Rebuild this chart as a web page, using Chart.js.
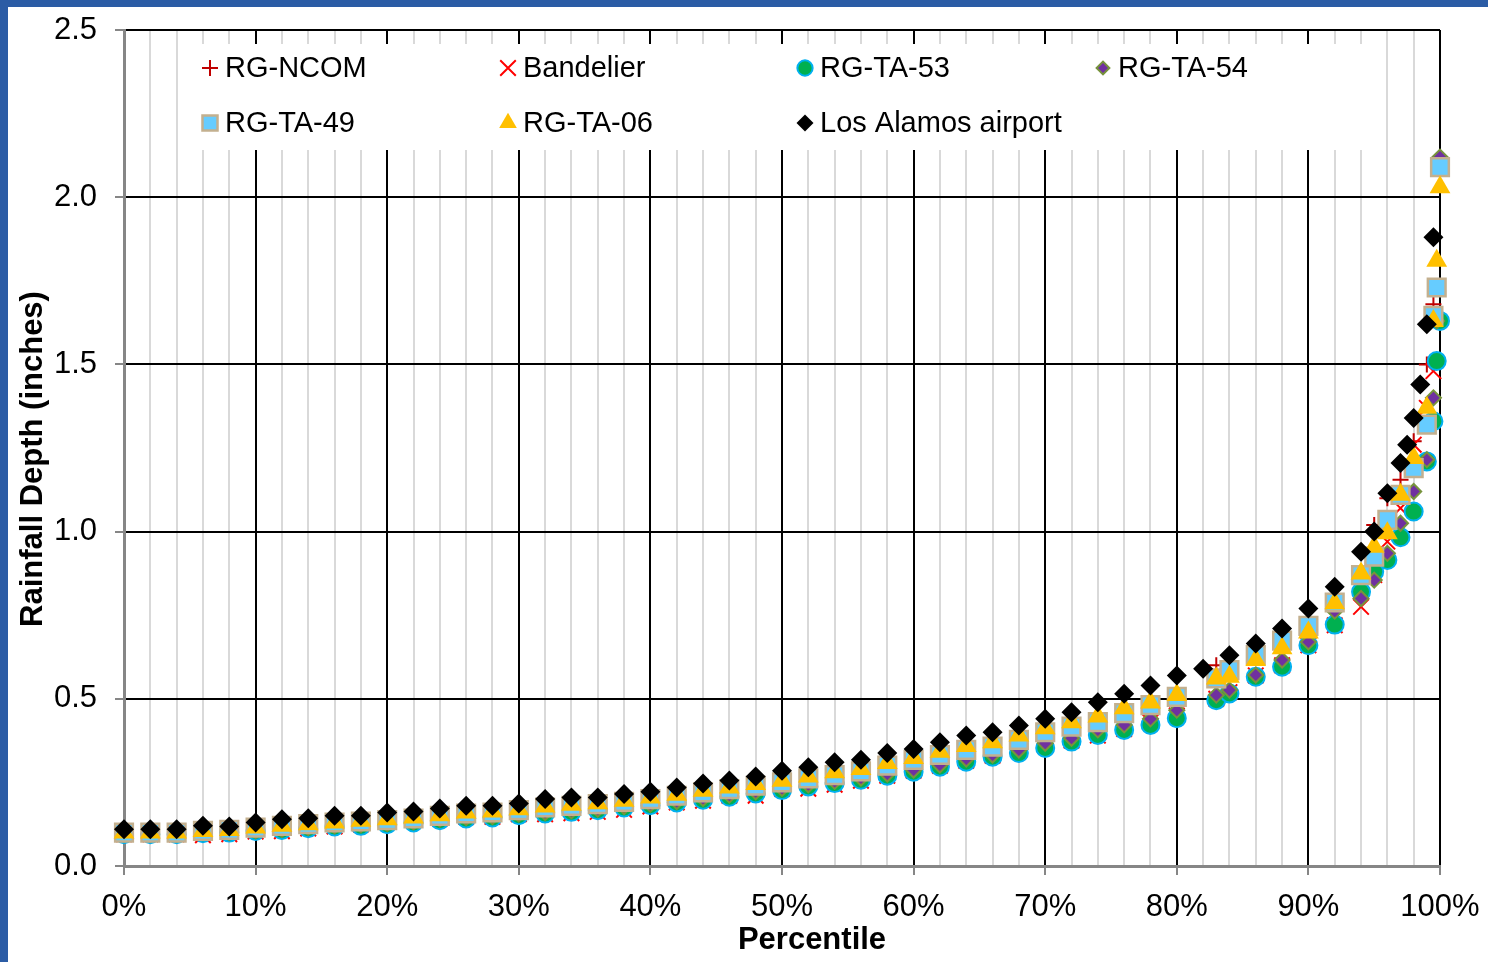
<!DOCTYPE html>
<html>
<head>
<meta charset="utf-8">
<script src="https://cdn.jsdelivr.net/npm/chart.js@4.4.0/dist/chart.umd.min.js"></script>
<style>
    html, body { margin: 0; padding: 0; background: #ffffff; }
    #grafico { display: block; }
</style>
</head>
<body>
<canvas id="grafico" width="1488" height="962"></canvas>
<script>

// percentis (eixo x) das estacoes
var percentis = [0, 2, 4, 6, 8, 10, 12, 14, 16, 18, 20, 22, 24, 26, 28, 30, 32, 34, 36, 38, 40,
    42, 44, 46, 48, 50, 52, 54, 56, 58, 60, 62, 64, 66, 68, 70, 72, 74, 76, 78, 80,
    83, 84, 86, 88, 90, 92, 94, 95, 96, 97, 98, 99, 99.5, 99.75, 100];

// o aeroporto tem outra serie de percentis
var percentisAeroporto = [0, 2, 4, 6, 8, 10, 12, 14, 16, 18, 20, 22, 24, 26, 28, 30, 32, 34, 36, 38, 40,
    42, 44, 46, 48, 50, 52, 54, 56, 58, 60, 62, 64, 66, 68, 70, 72, 74, 76, 78, 80,
    82, 84, 86, 88, 90, 92, 94, 95, 96, 97, 97.5, 98, 98.5, 99, 99.5];

var rgNcom = [0.10, 0.10, 0.10, 0.10, 0.10, 0.11, 0.11, 0.12, 0.125, 0.13, 0.135, 0.14, 0.145, 0.15, 0.155,
    0.16, 0.165, 0.17, 0.175, 0.185, 0.19, 0.20, 0.21, 0.22, 0.23, 0.24, 0.25, 0.26, 0.27, 0.285,
    0.30, 0.315, 0.33, 0.345, 0.36, 0.38, 0.40, 0.42, 0.44, 0.47, 0.50,
    0.60, 0.59, 0.63, 0.67, 0.72, 0.77, 0.86, 1.02, 1.10, 1.155, 1.27, 1.50, 1.68, null, null];

var bandelier = [0.095, 0.095, 0.095, 0.092, 0.095, 0.103, 0.104, 0.112, 0.118, 0.124, 0.134, 0.138, 0.142, 0.147, 0.147,
    0.155, 0.155, 0.158, 0.162, 0.168, 0.178, 0.19, 0.195, 0.21, 0.21, 0.231, 0.231, 0.243, 0.255, 0.27,
    0.285, 0.30, 0.315, 0.33, 0.345, 0.36, 0.375, 0.39, 0.41, 0.43, 0.45,
    0.50, 0.52, 0.57, 0.60, 0.66, 0.72, 0.775, 0.87, 0.97, 1.07, 1.26, 1.37, 1.48, null, null];

var rgTa53 = [0.095, 0.095, 0.095, 0.098, 0.100, 0.105, 0.108, 0.113, 0.118, 0.120, 0.125, 0.130, 0.137, 0.142, 0.145,
    0.152, 0.157, 0.162, 0.167, 0.175, 0.182, 0.190, 0.198, 0.207, 0.217, 0.227, 0.238, 0.248, 0.258, 0.270,
    0.282, 0.297, 0.312, 0.327, 0.338, 0.353, 0.372, 0.392, 0.407, 0.422, 0.442,
    0.496, 0.516, 0.566, 0.596, 0.660, 0.722, 0.820, 0.880, 0.915, 0.983, 1.060, 1.210, 1.330, 1.510, 1.630];

var rgTa54 = [0.095, 0.095, 0.095, 0.100, 0.100, 0.105, 0.110, 0.115, 0.120, 0.123, 0.127, 0.132, 0.140, 0.145, 0.148,
    0.155, 0.160, 0.165, 0.170, 0.178, 0.185, 0.193, 0.202, 0.212, 0.222, 0.232, 0.243, 0.253, 0.263, 0.275,
    0.287, 0.302, 0.320, 0.332, 0.347, 0.367, 0.382, 0.407, 0.422, 0.440, 0.466,
    0.511, 0.526, 0.571, 0.616, 0.670, 0.762, 0.800, 0.855, 0.935, 1.025, 1.120, 1.215, 1.400, 1.630, 2.120];

var rgTa49 = [0.100, 0.100, 0.100, 0.105, 0.108, 0.115, 0.120, 0.125, 0.130, 0.133, 0.137, 0.142, 0.150, 0.157, 0.160,
    0.167, 0.175, 0.180, 0.185, 0.192, 0.200, 0.210, 0.220, 0.230, 0.240, 0.250, 0.262, 0.272, 0.283, 0.300,
    0.317, 0.332, 0.347, 0.357, 0.377, 0.400, 0.417, 0.430, 0.457, 0.481, 0.506,
    0.561, 0.586, 0.631, 0.674, 0.718, 0.788, 0.870, 0.925, 1.035, 1.110, 1.190, 1.320, 1.645, 1.730, 2.090];

var rgTa06 = [0.100, 0.100, 0.100, 0.105, 0.108, 0.115, 0.120, 0.125, 0.130, 0.135, 0.140, 0.145, 0.152, 0.160, 0.163,
    0.170, 0.178, 0.183, 0.188, 0.195, 0.205, 0.213, 0.225, 0.235, 0.245, 0.255, 0.268, 0.280, 0.290, 0.308,
    0.323, 0.342, 0.359, 0.370, 0.390, 0.412, 0.430, 0.447, 0.472, 0.489, 0.511,
    0.561, 0.566, 0.616, 0.651, 0.698, 0.786, 0.875, 0.955, 0.995, 1.110, 1.220, 1.370, 1.630, 1.810, 2.030];

var losAlamos = [0.11, 0.11, 0.11, 0.12, 0.118, 0.13, 0.14, 0.143, 0.15, 0.15, 0.16, 0.163, 0.172, 0.18, 0.18,
    0.187, 0.20, 0.205, 0.205, 0.215, 0.222, 0.235, 0.247, 0.256, 0.268, 0.285, 0.295, 0.31, 0.318, 0.338,
    0.35, 0.37, 0.39, 0.40, 0.42, 0.44, 0.46, 0.49, 0.515, 0.54, 0.57,
    0.59, 0.63, 0.665, 0.71, 0.77, 0.835, 0.94, 1.0, 1.115, 1.205, 1.26, 1.34, 1.44, 1.62, 1.88];

var rotulosY = ["0.0", "0.5", "1.0", "1.5", "2.0", "2.5"];

var fonte = "'Liberation Sans', Arial, sans-serif";


function montarPontos(xs, ys) {
    var pontos = [];
    for (var i = 0; i < xs.length; i++) {
        if (ys[i] !== null) {
            pontos.push({ x: xs[i], y: ys[i] });
        }
    }
    return pontos;
}

var series = [
    { label: 'RG-NCOM', data: montarPontos(percentis, rgNcom), pointStyle: 'cross', pointRadius: 8,
      backgroundColor: '#C00000', borderColor: '#C00000', pointBorderWidth: 2 },
    { label: 'Bandelier', data: montarPontos(percentis, bandelier), pointStyle: 'crossRot', pointRadius: 11,
      backgroundColor: '#FF0000', borderColor: '#FF0000', pointBorderWidth: 2 },
    { label: 'RG-TA-53', data: montarPontos(percentis, rgTa53), pointStyle: 'circle', pointRadius: 9,
      backgroundColor: '#00B050', borderColor: '#00B0F0', pointBorderWidth: 2 },
    { label: 'RG-TA-54', data: montarPontos(percentis, rgTa54), pointStyle: 'rectRot', pointRadius: 7.5,
      backgroundColor: '#7030A0', borderColor: '#77933C', pointBorderWidth: 2 },
    { label: 'RG-TA-49', data: montarPontos(percentis, rgTa49), pointStyle: 'rect', pointRadius: 12.5,
      backgroundColor: '#66CCFF', borderColor: '#C3B08F', pointBorderWidth: 2.5 },
    { label: 'RG-TA-06', data: montarPontos(percentis, rgTa06), pointStyle: 'triangle', pointRadius: 12,
      backgroundColor: '#FFC000', borderColor: '#FFC000', pointBorderWidth: 0 },
    { label: 'Los Alamos airport', data: montarPontos(percentisAeroporto, losAlamos), pointStyle: 'rectRot', pointRadius: 10,
      backgroundColor: '#000000', borderColor: '#000000', pointBorderWidth: 0 }
];

// ultima serie fica por cima, como no Excel
for (var i = 0; i < series.length; i++) {
    series[i].order = series.length - i;
    series[i].clip = false;
    series[i].showLine = false;
}

// fundo branco e moldura azul
var pluginFundo = {
    id: 'fundo',
    beforeDraw: function (chart) {
        var ctx = chart.ctx;
        ctx.save();
        ctx.fillStyle = '#ffffff';
        ctx.fillRect(0, 0, chart.width, chart.height);
        ctx.fillStyle = '#2B5CA5';
        ctx.fillRect(0, 0, chart.width, 7);
        ctx.fillRect(0, 0, 8, chart.height);
        ctx.restore();
    }
};

// legenda dentro da area do grafico
var pluginLegenda = {
    id: 'legendaInterna',
    beforeDatasetsDraw: function (chart) {
        var ctx = chart.ctx;
        ctx.save();
        ctx.fillStyle = '#ffffff';
        ctx.fillRect(191, 44, 1184, 106);

        var colunas = [210, 508, 805, 1103];
        var linhas = [68, 123];
        ctx.font = "29px " + fonte;
        ctx.textBaseline = 'middle';
        ctx.textAlign = 'left';

        for (var i = 0; i < series.length; i++) {
            var s = series[i];
            var px = colunas[i % 4];
            var py = linhas[Math.floor(i / 4)];
            var fator = (s.pointStyle === 'cross' || s.pointStyle === 'crossRot') ? 1 : 0.85;
            ctx.fillStyle = s.backgroundColor;
            ctx.strokeStyle = s.borderColor;
            ctx.lineWidth = s.pointBorderWidth;
            Chart.helpers.drawPoint(ctx, {
                pointStyle: s.pointStyle,
                radius: s.pointRadius * fator,
                rotation: 0,
                borderWidth: s.pointBorderWidth
            }, px, py);
            ctx.fillStyle = '#000000';
            ctx.fillText(s.label, px + 15, py + 1);
        }
        ctx.restore();
    },
    afterDraw: function (chart) {
        // titulos dos eixos
        var ctx = chart.ctx;
        ctx.save();
        ctx.fillStyle = '#000000';
        ctx.font = "bold 31px " + fonte;
        ctx.textAlign = 'center';
        ctx.textBaseline = 'middle';
        ctx.fillText('Percentile', 812, 940);
        ctx.translate(33, 459);
        ctx.rotate(-Math.PI / 2);
        ctx.fillText('Rainfall Depth (inches)', 0, 0);
        ctx.restore();
    }
};

const config = {
    type: 'scatter',
    data: { datasets: series },
    options: {
        responsive: false,
        animation: false,
        devicePixelRatio: 1,
        events: [],
        layout: {
            padding: { left: 0, right: 48, top: 30, bottom: 0 }
        },
        plugins: {
            legend: { display: false },
            tooltip: { enabled: false }
        },
        scales: {
            x: {
                type: 'linear',
                position: 'bottom',
                min: 0,
                max: 100,
                afterFit: function (escala) {
                    escala.height = 96;
                    escala.paddingLeft = 0;
                    escala.paddingRight = 0;
                },
                ticks: {
                    stepSize: 2,
                    autoSkip: false,
                    maxRotation: 0,
                    minRotation: 0,
                    padding: 14,
                    color: '#000000',
                    font: { family: fonte, size: 31 },
                    callback: function (valor) {
                        return valor % 10 === 0 ? valor + '%' : '';
                    }
                },
                grid: {
                    lineWidth: 2,
                    tickLength: 9,
                    color: function (c) {
                        return c.tick && c.tick.value % 10 === 0 ? '#000000' : '#D9D9D9';
                    },
                    tickColor: function (c) {
                        return c.tick && c.tick.value % 10 === 0 ? '#868686' : 'rgba(0,0,0,0)';
                    }
                },
                border: { color: '#868686', width: 3 }
            },
            y: {
                type: 'linear',
                min: 0,
                max: 2.5,
                afterFit: function (escala) {
                    escala.width = 124;
                    escala.paddingTop = 0;
                    escala.paddingBottom = 0;
                },
                ticks: {
                    stepSize: 0.5,
                    padding: 18,
                    color: '#000000',
                    font: { family: fonte, size: 31 },
                    callback: function (valor) {
                        return rotulosY[Math.round(valor / 0.5)];
                    }
                },
                grid: {
                    lineWidth: 2,
                    tickLength: 9,
                    color: '#000000',
                    tickColor: '#868686'
                },
                border: { color: '#868686', width: 3 }
            }
        }
    },
    plugins: [pluginFundo, pluginLegenda]
};

let meuGrafico = new Chart(document.getElementById('grafico'), config);
</script>
</body>
</html>
